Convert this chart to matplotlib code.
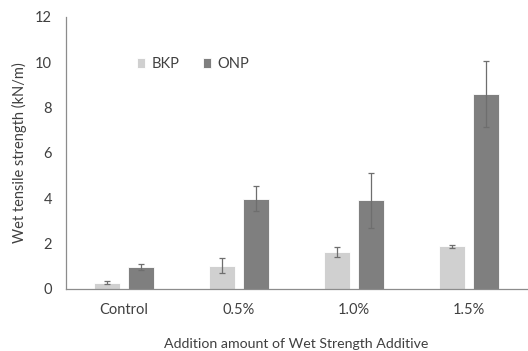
import numpy as np
import matplotlib
matplotlib.use('Agg')
import matplotlib.pyplot as plt

plt.rcParams['font.family'] = ['Lato', 'DejaVu Sans']

categories = ['Control', '0.5%', '1.0%', '1.5%']
bkp = [0.27, 1.03, 1.62, 1.87]
bkp_err = [0.06, 0.32, 0.22, 0.06]
onp = [0.96, 3.98, 3.9, 8.6]
onp_err = [0.12, 0.55, 1.22, 1.45]

fig = plt.figure(figsize=(5.28, 3.51), dpi=100)
ax = fig.add_axes([0.125, 0.177, 0.873, 0.775])

x = np.arange(len(categories))
w = 0.226
off = 0.148
ax.bar(x - off, bkp, w, color='#d0d0d0', edgecolor='white', linewidth=0.6, label='BKP',
       yerr=bkp_err, error_kw=dict(ecolor='#6e6e6e', elinewidth=0.9, capsize=2, capthick=0.9))
ax.bar(x + off, onp, w, color='#7f7f7f', edgecolor='white', linewidth=0.6, label='ONP',
       yerr=onp_err, error_kw=dict(ecolor='#6e6e6e', elinewidth=0.9, capsize=2, capthick=0.9))

ax.set_xlim(-0.5, 3.5)
ax.set_ylim(0, 12)
ax.set_yticks([0, 2, 4, 6, 8, 10, 12])
ax.set_xticks(x)
ax.set_xticklabels(categories)
ax.tick_params(length=0, labelsize=10.5, colors='#404040', pad=10)
ax.tick_params(axis='y', pad=10)
for s in ['top', 'right']:
    ax.spines[s].set_visible(False)
for s in ['left', 'bottom']:
    ax.spines[s].set_color('#8c8c8c')
    ax.spines[s].set_linewidth(0.9)

ax.set_xlabel('Addition amount of Wet Strength Additive', fontsize=10.2, color='#404040', labelpad=15)
ax.set_ylabel('Wet tensile strength (kN/m)', fontsize=10.5, color='#404040', labelpad=6)

ax.legend(loc='upper left', bbox_to_anchor=(0.125, 0.90), ncol=2, frameon=False, fontsize=10.5,
          handlelength=0.6, handleheight=0.6, columnspacing=1.6, handletextpad=0.4,
          labelcolor='#404040')

fig.savefig('out.png', dpi=100)
